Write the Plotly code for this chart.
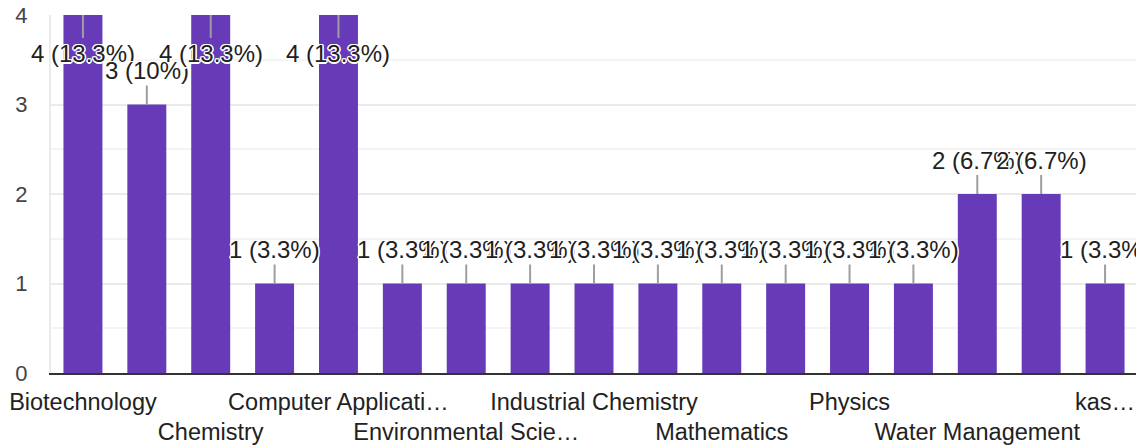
import plotly.graph_objects as go

# ---- data ----
categories = ["Biotechnology", "Botany", "Chemistry", "Commerce", "Computer Applications",
              "Economics", "Environmental Science", "Geography", "Industrial Chemistry",
              "Information Technology", "Mathematics", "Microbiology", "Physics",
              "Statistics", "Water Management", "Zoology", "kas…"]
counts = [4, 3, 4, 1, 4, 1, 1, 1, 1, 1, 1, 1, 1, 1, 2, 2, 1]

row1_ticks = ["Biotechnology", "Computer Applications", "Industrial Chemistry", "Physics", "kas…"]
row1_text = ["Biotechnology", "Computer Applicati…", "Industrial Chemistry", "Physics", "kas…"]
row2_ticks = ["Chemistry", "Environmental Science", "Mathematics", "Water Management"]
row2_text = ["Chemistry", "Environmental Scie…", "Mathematics", "Water Management"]

y_ticks = [0, 1, 2, 3, 4]

# ---- style ----
FONT = "Liberation Sans, Arial, sans-serif"
BAR = "#673AB7"
Y_MAX = 4
total = sum(counts)


def fmt_pct(v):
    p = round(v / total * 100, 1)
    s = f"{p:.1f}"
    if s.endswith(".0"):
        s = s[:-2]
    return f"{v} ({s}%)"


fig = go.Figure()
fig.add_trace(go.Bar(x=categories, y=counts, marker=dict(color=BAR, line=dict(width=0)),
                     hoverinfo="skip", showlegend=False))
# invisible helper trace to carry the second row of category labels
fig.add_trace(go.Scatter(x=categories, y=counts, xaxis="x2", mode="markers",
                         marker=dict(opacity=0), hoverinfo="skip", showlegend=False))

halo = ("1px 1px 0 #fff, -1px -1px 0 #fff, 1px -1px 0 #fff, -1px 1px 0 #fff, "
        "0 1.5px 0 #fff, 0 -1.5px 0 #fff, 1.5px 0 0 #fff, -1.5px 0 0 #fff")

annotations = []
for c, v in zip(categories, counts):
    ay = 38 if v >= Y_MAX else -34
    annotations.append(dict(
        x=c, y=v, xref="x", yref="y", text=fmt_pct(v),
        showarrow=True, arrowhead=0, arrowwidth=2, arrowcolor="#9e9e9e",
        ax=0, ay=ay, standoff=0, startstandoff=0,
        font=dict(family=FONT, size=24, color="#212121", shadow=halo),
    ))

# page body has an 8px default margin, so the figure is sized/offset to compensate
fig.update_layout(
    width=1136, height=440,
    margin=dict(l=43, r=7, t=7, b=75, autoexpand=False),
    paper_bgcolor="white", plot_bgcolor="white",
    bargap=0.39,
    annotations=annotations,
    xaxis=dict(type="category", range=[-0.5, len(categories) - 0.5],
               tickmode="array", tickvals=row1_ticks, ticktext=row1_text,
               ticks="", showgrid=False, showline=True, linecolor="#333333", linewidth=2,
               tickfont=dict(family=FONT, size=23.5, color="#222222"),
               ticklabelstandoff=7, ticklabeloverflow="allow",
               automargin=False, fixedrange=True),
    xaxis2=dict(type="category", overlaying="x", anchor="y", side="bottom",
                range=[-0.5, len(categories) - 0.5],
                categoryorder="array", categoryarray=categories,
                tickmode="array", tickvals=row2_ticks, ticktext=row2_text,
                ticks="", showgrid=False, showline=False,
                tickfont=dict(family=FONT, size=23.5, color="#222222"),
                ticklabelstandoff=42, ticklabeloverflow="allow",
                automargin=False, fixedrange=True),
    yaxis=dict(range=[0, Y_MAX], tickmode="array", tickvals=y_ticks,
               ticks="", showgrid=True, gridcolor="#ebebeb", gridwidth=2,
               zeroline=False, showline=True, linecolor="#ebebeb", linewidth=2, mirror=True,
               minor=dict(dtick=0.5, showgrid=True, gridcolor="#f4f4f4", gridwidth=2),
               tickfont=dict(family=FONT, size=22, color="#444444"),
               ticklabelstandoff=17, ticklabeloverflow="allow",
               automargin=False, fixedrange=True),
)

fig.write_html("out.html", config={"displayModeBar": False})
